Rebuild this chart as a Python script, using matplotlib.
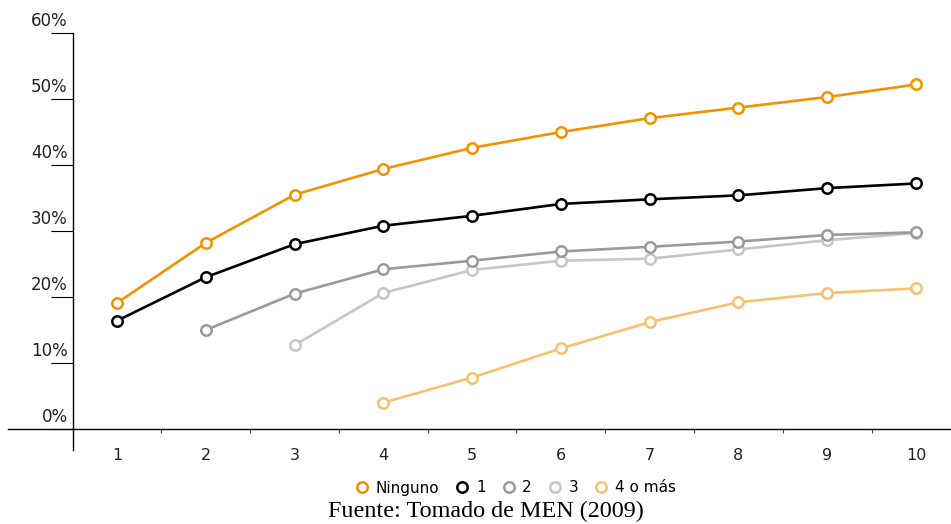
import numpy as np
import matplotlib
matplotlib.use("Agg")
import matplotlib.pyplot as plt
from matplotlib.transforms import ScaledTranslation

# data (percent)
years = [1, 2, 3, 4, 5, 6, 7, 8, 9, 10]
ninguno = [19.1, 28.2, 35.5, 39.4, 42.6, 45.0, 47.1, 48.7, 50.3, 52.2]
uno = [16.4, 23.0, 28.0, 30.8, 32.3, 34.1, 34.8, 35.4, 36.5, 37.2]
dos = [None, 15.0, 20.5, 24.2, 25.5, 26.9, 27.6, 28.4, 29.4, 29.8]
tres = [None, None, 12.7, 20.6, 24.1, 25.5, 25.8, 27.2, 28.6, 29.7]
cuatro = [None, None, None, 4.0, 7.8, 12.2, 16.2, 19.2, 20.6, 21.3]

series_names = ["Ninguno", "1", "2", "3", "4 o más"]
series_vals = [ninguno, uno, dos, tres, cuatro]
colors = ["#F39200", "#000000", "#9A9A9A", "#C6C6C6", "#F6C270"]
yticks = [0, 10, 20, 30, 40, 50, 60]

fig = plt.figure(figsize=(9.51, 5.24), dpi=100)
ax = fig.add_axes([8 / 951, 95 / 524, 943 / 951, 396 / 524])

handles = {}
# draw in reverse so Ninguno sits on top
for name, vals, c in reversed(list(zip(series_names, series_vals, colors))):
    xs = [x for x, v in zip(years, vals) if v is not None]
    ys = [v for v in vals if v is not None]
    h, = ax.plot(xs, ys, color=c, lw=1.9, marker='o', markersize=7.5,
                 markerfacecolor='white', markeredgecolor=c, mew=1.8,
                 clip_on=False, zorder=3)
    handles[name] = h

ax.set_xlim(1 - 109 / 88.78, 10 + 35 / 88.78)
ax.set_ylim(0, 60)

for s in ['top', 'right']:
    ax.spines[s].set_visible(False)
ax.spines['left'].set_position(('data', 0.5))
ax.spines['left'].set_linewidth(1.0)
ax.spines['bottom'].set_linewidth(1.0)
# y axis runs a bit below the x axis
ax.plot([0.5, 0.5], [-3.2, 0], color='black', lw=1.0, clip_on=False)

ax.set_yticks(yticks)
ax.set_yticklabels([f"{v}%" for v in yticks], fontsize=12, color='#222222')
ax.tick_params(axis='y', length=15.8, width=0.8, direction='out')
shift = ScaledTranslation(22 / 100, 12 / 100, fig.dpi_scale_trans)
for lab in ax.get_yticklabels():
    lab.set_transform(lab.get_transform() + shift)
    lab.set_va('center')

ax.set_xticks(years)
ax.set_xticklabels([str(y) for y in years], fontsize=11.5, color='#222222')
ax.set_xticks(np.arange(1.5, 10, 1), minor=True)
ax.tick_params(axis='x', which='major', length=0, pad=14)
ax.tick_params(axis='x', which='minor', length=3, width=0.8, color='#444444')

leg = fig.legend([handles[n] for n in series_names], series_names,
                 loc='center', bbox_to_anchor=(516 / 951, 1 - 488 / 524),
                 ncol=5, frameon=False, fontsize=11, handlelength=0.8,
                 handletextpad=0.5, columnspacing=1.1)
for lh in leg.legend_handles:
    lh.set_linestyle('none')

fig.text(486 / 951, 1 - 511 / 524, "Fuente: Tomado de MEN (2009)",
         family='Liberation Serif', fontsize=17.4, ha='center', va='center')

fig.savefig("out.png", dpi=100)
